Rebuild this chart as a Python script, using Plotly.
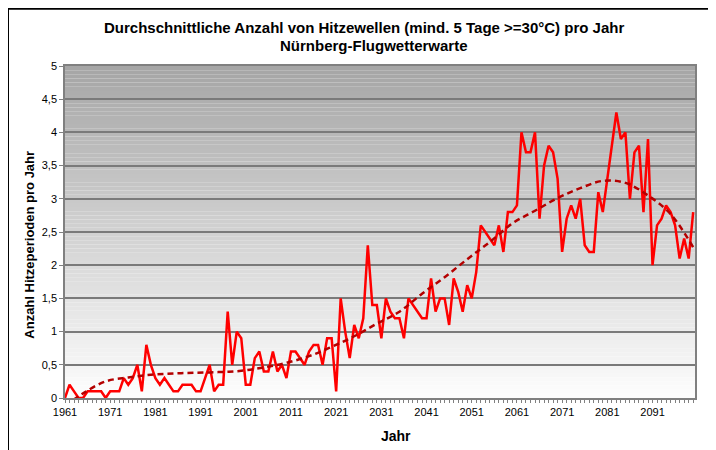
import plotly.graph_objects as go

years = list(range(1961, 2101))
heatwaves = [
    0, 0.2, 0.1, 0, 0, 0.1, 0.1, 0.1, 0.1, 0,            # 1961-1970
    0.1, 0.1, 0.1, 0.3, 0.2, 0.3, 0.5, 0.1, 0.8, 0.5,    # 1971-1980
    0.3, 0.2, 0.3, 0.2, 0.1, 0.1, 0.2, 0.2, 0.2, 0.1,    # 1981-1990
    0.1, 0.3, 0.5, 0.1, 0.2, 0.2, 1.3, 0.5, 1.0, 0.9,    # 1991-2000
    0.2, 0.2, 0.6, 0.7, 0.4, 0.4, 0.7, 0.4, 0.5, 0.3,    # 2001-2010
    0.7, 0.7, 0.6, 0.5, 0.7, 0.8, 0.8, 0.5, 0.9, 0.9,    # 2011-2020
    0.1, 1.5, 1.0, 0.6, 1.1, 0.9, 1.2, 2.3, 1.4, 1.4,    # 2021-2030
    0.9, 1.5, 1.3, 1.2, 1.2, 0.9, 1.5, 1.4, 1.3, 1.2,    # 2031-2040
    1.2, 1.8, 1.3, 1.5, 1.5, 1.1, 1.8, 1.6, 1.3, 1.7,    # 2041-2050
    1.5, 1.9, 2.6, 2.5, 2.4, 2.3, 2.6, 2.2, 2.8, 2.8,    # 2051-2060
    2.9, 4.0, 3.7, 3.7, 4.0, 2.7, 3.5, 3.8, 3.7, 3.3,    # 2061-2070
    2.2, 2.7, 2.9, 2.7, 3.0, 2.3, 2.2, 2.2, 3.1, 2.8,    # 2071-2080
    3.3, 3.8, 4.3, 3.9, 4.0, 3.0, 3.7, 3.8, 2.8, 3.9,    # 2081-2090
    2.0, 2.6, 2.7, 2.9, 2.8, 2.6, 2.1, 2.4, 2.1, 2.8,    # 2091-2100
]

trend_years = [1961, 1965, 1970, 1975, 1980, 1985, 1990, 1995, 2000, 2005,
               2010, 2015, 2020, 2025, 2030, 2035, 2040, 2045, 2050, 2055,
               2060, 2065, 2070, 2075, 2080, 2085, 2090, 2095, 2100]
trend_values = [-0.12, 0.07, 0.25, 0.31, 0.35, 0.37, 0.38, 0.39, 0.41, 0.46,
                0.53, 0.63, 0.77, 0.93, 1.12, 1.30, 1.57, 1.82, 2.09, 2.35,
                2.63, 2.82, 3.01, 3.16, 3.27, 3.24, 3.05, 2.77, 2.27]

xtick_vals = list(range(1961, 2092, 10))
xtick_text = [str(v) for v in xtick_vals]
ytick_vals = [0, 0.5, 1, 1.5, 2, 2.5, 3, 3.5, 4, 4.5, 5]

FONT = "Liberation Sans, Arial, sans-serif"

# the page body adds an 8px offset; layout is laid out in window pixels minus it
OFF = 8
FIG_W, FIG_H = 716 - OFF, 450 - OFF
L, R, T, B = 65 - OFF, 695 - OFF, 66.3 - OFF, 398.3 - OFF
W, H = R - L, B - T


def px(x):
    return (x - OFF - L) / W


def py(y):
    return (B - (y - OFF)) / H


fig = go.Figure()
fig.add_trace(go.Scatter(x=years, y=heatwaves, mode="lines",
                         line=dict(color="#FF0000", width=2.5),
                         showlegend=False, hoverinfo="x+y"))
fig.add_trace(go.Scatter(x=trend_years, y=trend_values, mode="lines",
                         line=dict(color="#B40000", width=2.5, dash="6px,4px",
                                   shape="spline", smoothing=1.0),
                         showlegend=False, hoverinfo="skip"))

# gradient background bands (dark grey at top -> white at bottom)
shapes = []
n = 80
for i in range(n):
    t = i / (n - 1)
    c = int(round(166 + (253 - 166) * t))
    shapes.append(dict(type="rect", xref="paper", yref="paper",
                       x0=0, x1=1, y0=1 - (i + 1) / n, y1=1 - i / n,
                       fillcolor=f"rgb({c},{c},{c})", line=dict(width=0),
                       layer="below"))
# outer chart frame
shapes.append(dict(type="rect", xref="paper", yref="paper",
                   x0=px(8), x1=px(712), y0=py(480), y1=py(9),
                   line=dict(color="#000000", width=2), fillcolor="rgba(0,0,0,0)",
                   layer="above"))

fig.update_layout(
    width=FIG_W, height=FIG_H,
    margin=dict(l=L, r=FIG_W - R, t=T, b=FIG_H - B),
    paper_bgcolor="white", plot_bgcolor="white",
    separators=",.",
    font=dict(family=FONT, size=11, color="#000000"),
    shapes=shapes,
    annotations=[
        dict(text="<b>Durchschnittliche Anzahl von Hitzewellen (mind. 5 Tage >=30°C) pro Jahr</b>",
             xref="paper", yref="paper", x=px(364), y=py(28), showarrow=False,
             font=dict(family=FONT, size=15, color="#000000"), xanchor="center", yanchor="middle"),
        dict(text="<b>Nürnberg-Flugwetterwarte</b>",
             xref="paper", yref="paper", x=px(374), y=py(46), showarrow=False,
             font=dict(family=FONT, size=15, color="#000000"), xanchor="center", yanchor="middle"),
        dict(text="<b>Jahr</b>", xref="paper", yref="paper", x=px(396), y=py(436),
             showarrow=False, font=dict(family=FONT, size=14, color="#000000"),
             xanchor="center", yanchor="middle"),
        dict(text="<b>Anzahl Hitzeperioden pro Jahr</b>", xref="paper", yref="paper",
             x=px(30), y=py(245), showarrow=False, textangle=-90,
             font=dict(family=FONT, size=13, color="#000000"),
             xanchor="center", yanchor="middle"),
    ],
    xaxis=dict(range=[1961, 2100.4], tickmode="array", tickvals=xtick_vals,
               ticktext=xtick_text, ticks="outside", ticklen=3, tickcolor="#808080",
               tickwidth=1, showgrid=False, zeroline=False,
               showline=True, linecolor="#808080", linewidth=1.5, mirror=True,
               tickfont=dict(size=11, color="#000000"),
               minor=dict(dtick=1, tick0=1961, ticks="outside", ticklen=3,
                          tickcolor="#808080", tickwidth=1, showgrid=False)),
    yaxis=dict(range=[0, 5], tickmode="array", tickvals=ytick_vals,
               ticks="outside", ticklen=4, tickcolor="#808080",
               showgrid=True, gridcolor="#7A7A7A", gridwidth=1.5, zeroline=False,
               showline=True, linecolor="#808080", linewidth=1.5, mirror=True,
               tickfont=dict(size=11, color="#000000")),
)

fig.write_html("out.html")
